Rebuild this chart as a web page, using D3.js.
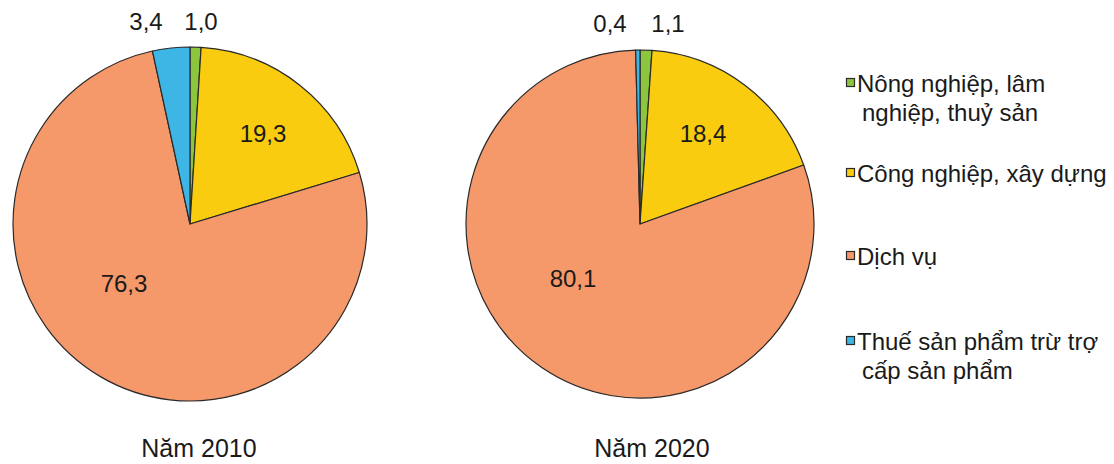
<!DOCTYPE html>
<html>
<head>
<meta charset="utf-8">
<script src="https://cdn.jsdelivr.net/npm/d3@7/dist/d3.min.js"></script>
<style>
  html, body { margin: 0; padding: 0; background: #ffffff; }
  svg { display: block; }
  text { font-family: "Liberation Sans", Arial, sans-serif; fill: #1a1a1a; }
</style>
</head>
<body>
<svg id="chart" width="1114" height="464"></svg>
<script>
// ---- Data ----
const categories = [
  "Nông nghiệp, lâm nghiệp, thuỷ sản",
  "Công nghiệp, xây dựng",
  "Dịch vụ",
  "Thuế sản phẩm trừ trợ cấp sản phẩm"
];
const legendLines = [
  ["Nông nghiệp, lâm", "nghiệp, thuỷ sản"],
  ["Công nghiệp, xây dựng"],
  ["Dịch vụ"],
  ["Thuế sản phẩm trừ trợ", "cấp sản phẩm"]
];
const years = ["Năm 2010", "Năm 2020"];
const values2010 = [1.0, 19.3, 76.3, 3.4];
const values2020 = [1.1, 18.4, 80.1, 0.4];
const labels2010 = ["1,0", "19,3", "76,3", "3,4"];
const labels2020 = ["1,1", "18,4", "80,1", "0,4"];
const colors = ["#8cc63f", "#f9cc10", "#f5986a", "#3db6e6"];

// ---- Layout ----
const svg = d3.select("#chart");
const pies = [
  { values: values2010, labels: labels2010, cx: 190, cy: 224, r: 177,
    labelPos: [[201, 30], [263, 142], [124, 292], [146, 30]], title: years[0], tx: 199 },
  { values: values2020, labels: labels2020, cx: 640, cy: 224, r: 174,
    labelPos: [[668, 32], [703, 142], [573, 287], [610, 32]], title: years[1], tx: 652 }
];

const pie = d3.pie().sort(null).value(d => d);
const color = d3.scaleOrdinal().domain(d3.range(categories.length)).range(colors);

pies.forEach(p => {
  const arc = d3.arc().innerRadius(0).outerRadius(p.r);
  const g = svg.append("g").attr("transform", `translate(${p.cx},${p.cy})`);
  g.selectAll("path")
    .data(pie(p.values))
    .join("path")
    .attr("d", arc)
    .attr("fill", (d, i) => color(i))
    .attr("stroke", "#2a2a2a")
    .attr("stroke-width", 1.2)
    .attr("stroke-linejoin", "round");

  svg.append("g").selectAll("text")
    .data(p.labels)
    .join("text")
    .attr("x", (d, i) => p.labelPos[i][0])
    .attr("y", (d, i) => p.labelPos[i][1])
    .attr("text-anchor", "middle")
    .attr("font-size", 24)
    .text(d => d);

  svg.append("text")
    .attr("x", p.tx)
    .attr("y", 457)
    .attr("text-anchor", "middle")
    .attr("font-size", 25)
    .text(p.title);
});

// ---- Legend ----
const legendY = [92, 182, 265, 350];
const lineH = 29;
const lg = svg.append("g");
legendLines.forEach((lines, i) => {
  lg.append("rect")
    .attr("x", 846.5).attr("y", legendY[i] - 13.5)
    .attr("width", 8).attr("height", 8)
    .attr("fill", color(i))
    .attr("stroke", "#2a2a2a").attr("stroke-width", 1.2);
  lines.forEach((t, j) => {
    lg.append("text")
      .attr("x", j === 0 ? 857 : 862)
      .attr("y", legendY[i] + j * lineH)
      .attr("font-size", 24)
      .text(t);
  });
});
</script>
</body>
</html>
